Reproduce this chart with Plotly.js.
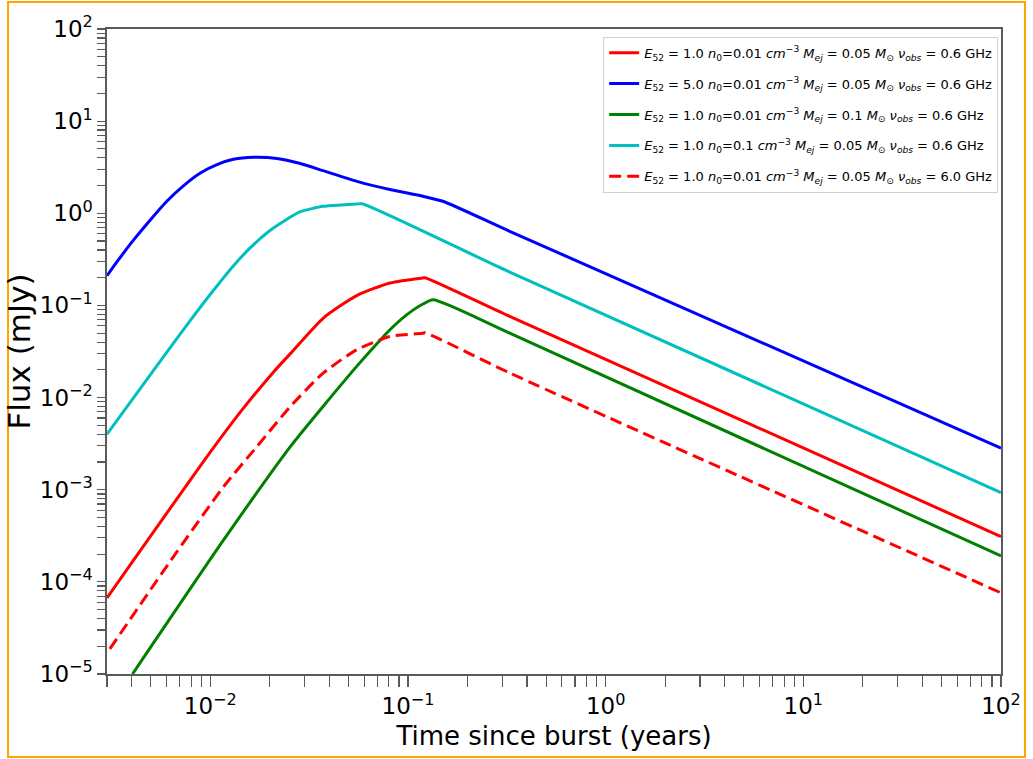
<!DOCTYPE html>
<html>
<head>
<meta charset="utf-8">
<script src="https://cdn.plot.ly/plotly-3.0.1.min.js"></script>
<style>
  html, body { margin: 0; padding: 0; background: #ffffff; }
  #chart { width: 1033px; height: 759px; }
</style>
</head>
<body>
<div id="chart"></div>
<script>
// ---- Data ----
const seriesNames = [
  '<i>E</i><sub>52</sub> = 1.0 <i>n</i><sub>0</sub>=0.01 <i>cm</i><sup>−3</sup> <i>M<sub>ej</sub></i> = 0.05 <i>M</i><sub>⊙</sub> <i>ν<sub>obs</sub></i> = 0.6 GHz',
  '<i>E</i><sub>52</sub> = 5.0 <i>n</i><sub>0</sub>=0.01 <i>cm</i><sup>−3</sup> <i>M<sub>ej</sub></i> = 0.05 <i>M</i><sub>⊙</sub> <i>ν<sub>obs</sub></i> = 0.6 GHz',
  '<i>E</i><sub>52</sub> = 1.0 <i>n</i><sub>0</sub>=0.01 <i>cm</i><sup>−3</sup> <i>M<sub>ej</sub></i> = 0.1 <i>M</i><sub>⊙</sub> <i>ν<sub>obs</sub></i> = 0.6 GHz',
  '<i>E</i><sub>52</sub> = 1.0 <i>n</i><sub>0</sub>=0.1 <i>cm</i><sup>−3</sup> <i>M<sub>ej</sub></i> = 0.05 <i>M</i><sub>⊙</sub> <i>ν<sub>obs</sub></i> = 0.6 GHz',
  '<i>E</i><sub>52</sub> = 1.0 <i>n</i><sub>0</sub>=0.01 <i>cm</i><sup>−3</sup> <i>M<sub>ej</sub></i> = 0.05 <i>M</i><sub>⊙</sub> <i>ν<sub>obs</sub></i> = 6.0 GHz'
];

// E52=1, n0=0.01, Mej=0.05, 0.6 GHz (red solid)
const tRed   = [0.003, 0.00962, 0.0145, 0.0209, 0.0254, 0.0373, 0.055, 0.081, 0.119, 0.122, 0.327, 100];
const fRed   = [6.7e-5, 2.29e-3, 7.4e-3, 0.019, 0.030, 0.073, 0.128, 0.175, 0.199, 0.200, 0.076, 3.1e-4];

// E52=5 (blue)
const tBlue  = [0.003, 0.00338, 0.0041, 0.00498, 0.00604, 0.00733, 0.0089, 0.0108, 0.0131, 0.01655, 0.0217, 0.0285, 0.0372, 0.0552, 0.081, 0.119, 0.150, 0.327, 100];
const fBlue  = [0.21, 0.30, 0.517, 0.853, 1.36, 2.00, 2.74, 3.38, 3.85, 4.05, 3.94, 3.47, 2.90, 2.22, 1.81, 1.53, 1.35, 0.637, 2.83e-3];

// Mej=0.1 (green)
const tGreen = [0.00404, 0.01167, 0.0254, 0.055, 0.0752, 0.081, 0.0984, 0.119, 0.134, 0.327, 100];
const fGreen = [1.0e-5, 2.85e-4, 2.94e-3, 0.0218, 0.046, 0.0545, 0.079, 0.1035, 0.115, 0.050, 1.91e-4];

// n0=0.1 (cyan)
const tCyan  = [0.003, 0.00518, 0.00792, 0.00962, 0.0131, 0.0159, 0.0193, 0.0235, 0.0285, 0.0373, 0.046, 0.0551, 0.0585, 0.327, 100];
const fCyan  = [0.0040, 0.0200, 0.0687, 0.119, 0.270, 0.421, 0.611, 0.818, 1.04, 1.19, 1.23, 1.26, 1.27, 0.23, 9.3e-4];

// 6.0 GHz (red dashed)
const tDash  = [0.0031, 0.0063, 0.01167, 0.0172, 0.0254, 0.0373, 0.055, 0.081, 0.119, 0.122, 0.327, 100];
const fDash  = [1.87e-5, 1.70e-4, 1.08e-3, 2.94e-3, 8.0e-3, 0.0185, 0.033, 0.046, 0.050, 0.0505, 0.0185, 7.6e-5];

// Tick labels
const xTickVals = [0.01, 0.1, 1, 10, 100];
const xTickText = ['10<sup>−2</sup>', '10<sup>−1</sup>', '10<sup>0</sup>', '10<sup>1</sup>', '10<sup>2</sup>'];
const yTickVals = [1e-5, 1e-4, 1e-3, 1e-2, 1e-1, 1, 10, 100];
const yTickText = ['10<sup>−5</sup>', '10<sup>−4</sup>', '10<sup>−3</sup>', '10<sup>−2</sup>', '10<sup>−1</sup>', '10<sup>0</sup>', '10<sup>1</sup>', '10<sup>2</sup>'];

// ---- Build tick arrays (majors labelled, minors blank) ----
function logTicks(majors, labels) {
  const vals = [], text = [];
  majors.forEach((m, i) => {
    vals.push(m); text.push(labels[i]);
    if (i < majors.length - 1) {
      for (let k = 2; k <= 9; k++) { vals.push(m * k); text.push(''); }
    }
  });
  return {vals, text};
}
const xt = logTicks([0.001].concat(xTickVals), [''].concat(xTickText));
const yt = logTicks(yTickVals, yTickText);

const lw = 3;
const sm = 0.6;
const traces = [
  {x: tRed,   y: fRed,   name: seriesNames[0], legendgroup: 'a', mode: 'lines', line: {color: '#ff0000', width: lw, shape: 'spline', smoothing: sm}},
  {x: tBlue,  y: fBlue,  name: seriesNames[1], legendgroup: 'b', mode: 'lines', line: {color: '#0000ff', width: lw, shape: 'spline', smoothing: sm}},
  {x: tGreen, y: fGreen, name: seriesNames[2], legendgroup: 'c', mode: 'lines', line: {color: '#008000', width: lw, shape: 'spline', smoothing: sm}},
  {x: tCyan,  y: fCyan,  name: seriesNames[3], legendgroup: 'd', mode: 'lines', line: {color: '#00bfbf', width: lw, shape: 'spline', smoothing: sm}},
  {x: tDash,  y: fDash,  name: seriesNames[4], legendgroup: 'e', mode: 'lines', line: {color: '#ff0000', width: lw, dash: '12px,6px', shape: 'spline', smoothing: sm}}
];

const axisCommon = {
  type: 'log',
  tickmode: 'array',
  showgrid: false,
  zeroline: false,
  showline: true,
  mirror: true,
  linecolor: '#5a5a5a',
  linewidth: 1.6,
  ticks: 'outside',
  tickcolor: '#5a5a5a',
  tickwidth: 1.2,
  tickfont: {family: 'DejaVu Sans, sans-serif', size: 23, color: '#000000'}
};

const layout = {
  width: 1033, height: 759,
  autosize: false,
  margin: {l: 107, r: 32, t: 29, b: 85, pad: 0},
  paper_bgcolor: '#ffffff',
  plot_bgcolor: '#ffffff',
  font: {family: 'DejaVu Sans, sans-serif', color: '#000000'},
  showlegend: true,
  xaxis: Object.assign({}, axisCommon, {
    range: [Math.log10(0.003), 2],
    tickvals: xt.vals, ticktext: xt.text,
    ticklen: 11,
    title: {text: 'Time since burst (years)', font: {family: 'DejaVu Sans, sans-serif', size: 26, color: '#000000'}, standoff: 8}
  }),
  yaxis: Object.assign({}, axisCommon, {
    range: [-5, 2],
    tickvals: yt.vals, ticktext: yt.text,
    ticklen: 8,
    title: {text: 'Flux (mJy)', font: {family: 'DejaVu Sans, sans-serif', size: 31, color: '#000000'}, standoff: 0}
  }),
  legend: {
    x: 0.555, y: 0.988, xanchor: 'left', yanchor: 'top',
    traceorder: 'grouped', tracegroupgap: 11,
    bgcolor: '#ffffff', bordercolor: '#d0d0d0', borderwidth: 1,
    font: {family: 'DejaVu Sans, sans-serif', size: 13, color: '#000000'}
  },
  shapes: [{
    type: 'rect', xref: 'paper', yref: 'paper',
    x0: -0.1107, x1: 1.0268, y0: -0.1287, y1: 1.0419,
    line: {color: '#ffa500', width: 2}, fillcolor: 'rgba(0,0,0,0)', layer: 'above'
  }]
};

Plotly.newPlot('chart', traces, layout, {displayModeBar: false, staticPlot: true});
</script>
</body>
</html>
